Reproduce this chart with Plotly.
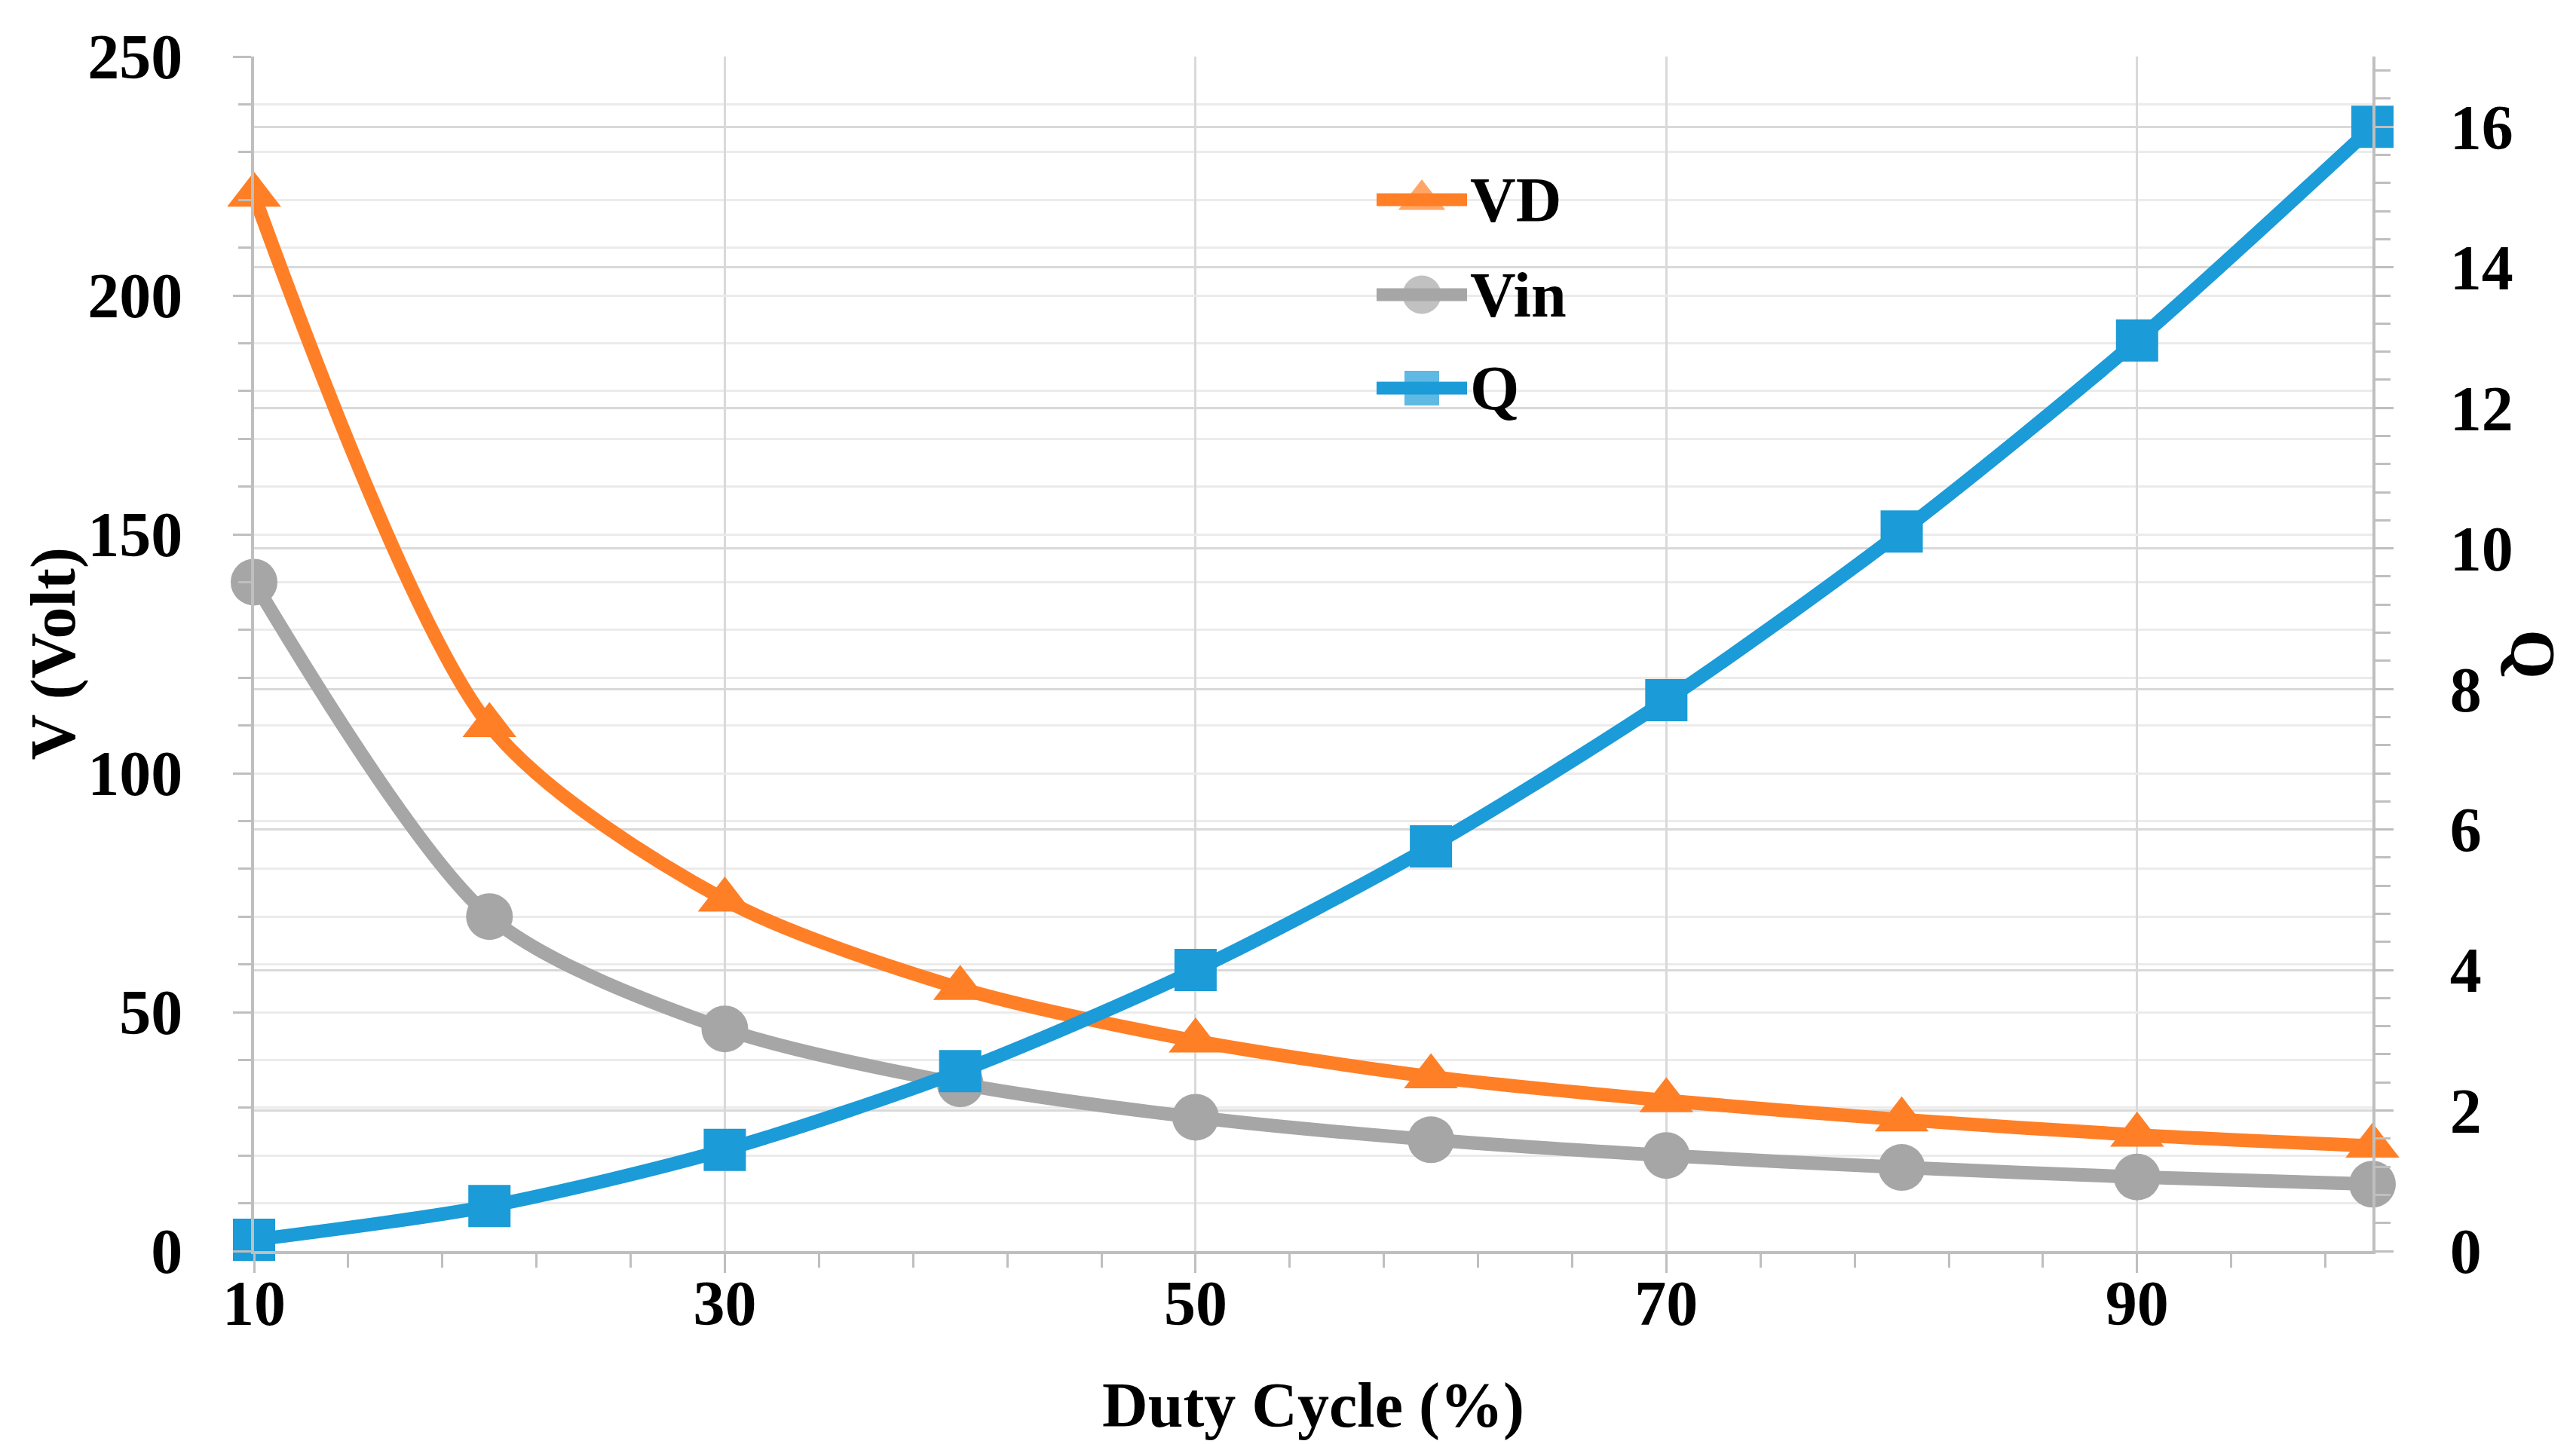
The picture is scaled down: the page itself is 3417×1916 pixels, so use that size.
import plotly.graph_objects as go

# ---- data ----
duty = [10, 20, 30, 40, 50, 60, 70, 80, 90, 100]
vd = [221, 110, 73.5, 55, 44, 36.5, 31.5, 27.5, 24.3, 22]
vin = [140, 70, 46.5, 35, 28, 23.3, 20, 17.5, 15.5, 14]
q = [0.16, 0.64, 1.44, 2.56, 4.0, 5.76, 7.84, 10.24, 12.96, 16.0]

series_names = ["VD", "Vin", "Q"]
series_colors = ["#FF7F27", "#A6A6A6", "#1B9BD7"]
series_symbols = ["triangle-up", "circle", "square"]
plot_sizes = [62, 62, 56]
legend_sizes = [54, 51, 46]

x_ticks = [10, 30, 50, 70, 90]
y_ticks = [0, 50, 100, 150, 200, 250]
y2_ticks = [0, 2, 4, 6, 8, 10, 12, 14, 16]

W, H = 3417, 1916
L, R, T, B = 329, 278, 67, 264
PW, PH = W - L - R, H - T - B


def px_x(px):
    return (px - L) / PW


def px_y(py):
    return (H - B - py) / PH


FONT = "Liberation Serif"
FS = 84
tickfont = dict(family=FONT, size=FS, color="black", weight="bold")
LW = 18

fig = go.Figure()
ys = [vd, vin, q]
axes = ["y", "y", "y2"]
for name, col, sym, size, yv, ax in zip(series_names, series_colors, series_symbols, plot_sizes, ys, axes):
    fig.add_trace(go.Scatter(
        x=duty, y=yv, name=name, yaxis=ax,
        mode="lines+markers",
        line=dict(color=col, width=LW, shape="spline", smoothing=0.8),
        marker=dict(symbol=sym, size=size, color=col, line=dict(width=0)),
        cliponaxis=False, showlegend=False,
    ))

# ---- manual legend (large keys, like the reference) ----
legend_rows_py = [257, 383, 507]
for name, col, sym, size, py in zip(series_names, series_colors, series_symbols, legend_sizes, legend_rows_py):
    yp = px_y(py)
    fig.add_trace(go.Scatter(
        x=[0, 0.5, 1], y=[yp, yp, yp], xaxis="x2", yaxis="y3",
        mode="lines+markers",
        line=dict(color=col, width=17),
        marker=dict(symbol=sym, size=[0, size, 0], color=col, line=dict(width=0)),
        cliponaxis=False, showlegend=False, hoverinfo="skip",
    ))
    fig.add_annotation(
        x=px_x(1940), y=yp, xref="paper", yref="paper",
        text=name, showarrow=False, xanchor="left", yanchor="middle",
        font=dict(family=FONT, size=FS, color="black", weight="bold"),
    )

# ---- axis titles ----
fig.add_annotation(x=0.5, y=px_y(1857), xref="paper", yref="paper",
                   text="Duty Cycle (%)", showarrow=False, xanchor="center", yanchor="middle",
                   font=dict(family=FONT, size=FS, color="black", weight="bold"))
fig.add_annotation(x=px_x(62), y=0.5, xref="paper", yref="paper",
                   text="V (Volt)", showarrow=False, textangle=-90, xanchor="center", yanchor="middle",
                   font=dict(family=FONT, size=FS, color="black", weight="bold"))
fig.add_annotation(x=px_x(3351), y=0.5, xref="paper", yref="paper",
                   text="Q", showarrow=False, textangle=90, xanchor="center", yanchor="middle",
                   font=dict(family=FONT, size=FS, color="black", weight="bold"))

axis_gray = "#BFBFBF"
fig.update_layout(
    width=W, height=H,
    margin=dict(l=L, r=R, t=T, b=B, pad=0),
    paper_bgcolor="white", plot_bgcolor="rgba(0,0,0,0)",
    showlegend=False,
    xaxis=dict(
        range=[10, 100], tickvals=x_ticks, ticktext=[str(v) for v in x_ticks],
        showline=True, linecolor=axis_gray, linewidth=4,
        ticks="outside", ticklen=25, tickwidth=3, tickcolor=axis_gray,
        showgrid=True, gridcolor="#D9D9D9", gridwidth=3,
        zeroline=False, tickfont=tickfont, ticklabelstandoff=-32,
        minor=dict(tick0=10, dtick=4, ticks="outside", ticklen=18, tickwidth=3,
                   tickcolor=axis_gray, showgrid=False),
    ),
    yaxis=dict(
        range=[0, 250], tickvals=y_ticks, ticktext=[str(v) for v in y_ticks],
        showline=True, linecolor=axis_gray, linewidth=4,
        ticks="outside", ticklen=24, tickwidth=3, tickcolor=axis_gray,
        showgrid=True, gridcolor="#EBEBEB", gridwidth=3,
        zeroline=False, tickfont=tickfont, ticklabelstandoff=50,
        minor=dict(dtick=10, ticks="outside", ticklen=17, tickwidth=3,
                   tickcolor=axis_gray, showgrid=True, gridcolor="#EBEBEB", gridwidth=3),
    ),
    yaxis2=dict(
        range=[0, 17], overlaying="y", side="right", anchor="x",
        tickvals=y2_ticks, ticktext=[str(v) for v in y2_ticks],
        showline=True, linecolor=axis_gray, linewidth=4,
        ticks="outside", ticklen=24, tickwidth=3, tickcolor=axis_gray,
        showgrid=True, gridcolor="#D9D9D9", gridwidth=3,
        zeroline=False, tickfont=tickfont, ticklabelstandoff=58,
        minor=dict(dtick=0.4, tick0=0, ticks="outside", ticklen=20, tickwidth=3,
                   tickcolor=axis_gray, showgrid=False),
    ),
    xaxis2=dict(domain=[px_x(1818), px_x(1938)], range=[0, 1], anchor="y3",
                visible=False, fixedrange=True),
    yaxis3=dict(domain=[0, 1], range=[0, 1], anchor="x2", visible=False, fixedrange=True),
)

fig.write_html("out.html")
